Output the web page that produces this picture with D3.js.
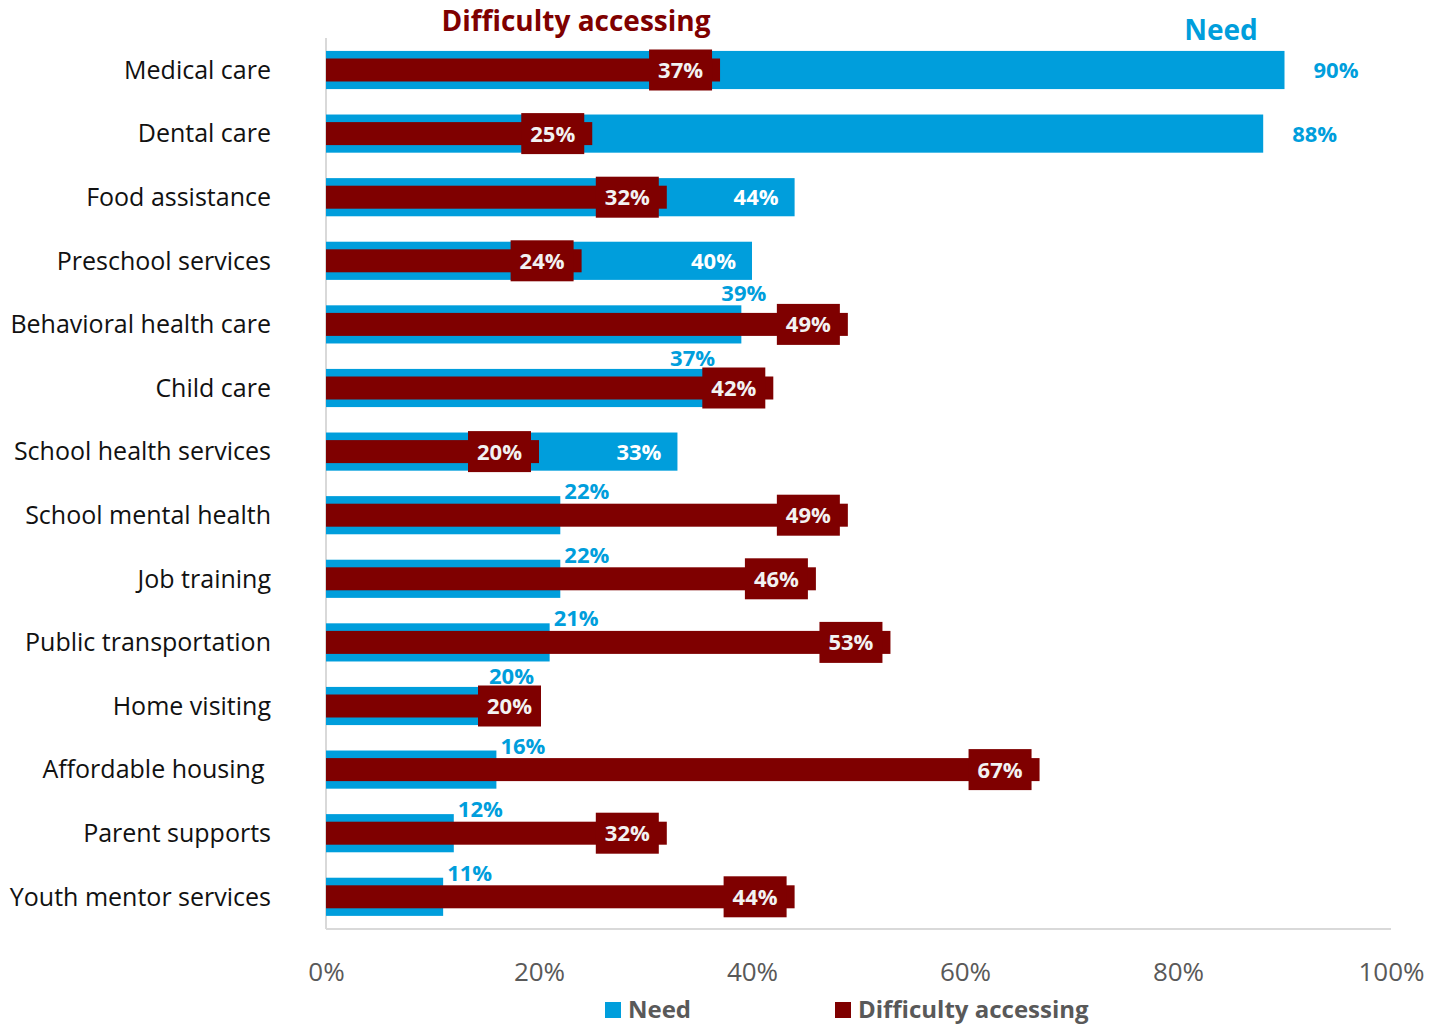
<!DOCTYPE html>
<html>
<head>
<meta charset="utf-8">
<script src="https://cdn.jsdelivr.net/npm/d3@7"></script>
<style>
  html, body { margin: 0; padding: 0; background: #fff; }
  svg { display: block; font-family: "Open Sans", "Noto Sans", sans-serif; }
</style>
</head>
<body>
<svg id="chart" width="1442" height="1026"></svg>
<script>
const categories = [
  "Medical care", "Dental care", "Food assistance", "Preschool services",
  "Behavioral health care", "Child care", "School health services",
  "School mental health", "Job training", "Public transportation",
  "Home visiting", "Affordable housing ", "Parent supports", "Youth mentor services"
];
const needValues = [90, 88, 44, 40, 39, 37, 33, 22, 22, 21, 20, 16, 12, 11];
const difficultyValues = [37, 25, 32, 24, 49, 42, 20, 49, 46, 53, 20, 67, 32, 44];
const tickValues = [0, 20, 40, 60, 80, 100];
const seriesNames = ["Need", "Difficulty accessing"];

const BLUE = "#009EDC";
const RED = "#7F0000";

const data = categories.map((c, i) => ({ cat: c, need: needValues[i], diff: difficultyValues[i] }));

const svg = d3.select("#chart");
const x = d3.scaleLinear().domain([0, 100]).range([326, 1391]);
const y = d3.scaleBand().domain(categories).range([38.2, 928.6]).paddingInner(0.4).paddingOuter(0.2);

const needH = y.bandwidth();
const diffH = 23;
const boxH = 41, boxW = 63;

// Axis lines
svg.append("line").attr("x1", x(0)).attr("x2", x(0)).attr("y1", 38).attr("y2", 929)
  .attr("stroke", "#d9d9d9").attr("stroke-width", 2);
svg.append("line").attr("x1", x(0)).attr("x2", x(100)).attr("y1", 929).attr("y2", 929)
  .attr("stroke", "#d9d9d9").attr("stroke-width", 2);

// X axis tick labels
const xAxis = d3.axisBottom(x).tickValues(tickValues).tickFormat(d => d + "%").tickSize(0).tickPadding(0);
const gx = svg.append("g").attr("transform", "translate(0,965)").call(xAxis);
gx.select(".domain").remove();
gx.selectAll("text").attr("font-size", 26).attr("fill", "#595959")
  .attr("font-family", "'Open Sans', 'Noto Sans', sans-serif").attr("dy", "0.6em");

// Y category labels
const yAxis = d3.axisLeft(y).tickSize(0).tickPadding(0);
const gy = svg.append("g").attr("transform", "translate(271,0)").call(yAxis);
gy.select(".domain").remove();
gy.selectAll("text").attr("font-size", 25).attr("fill", "#111")
  .attr("font-family", "'Open Sans', 'Noto Sans', sans-serif").attr("dy", "0.35em")
  .style("white-space", "pre");

// Need bars
svg.append("g").selectAll("rect").data(data).join("rect")
  .attr("x", x(0)).attr("y", d => y(d.cat))
  .attr("width", d => x(d.need) - x(0)).attr("height", needH)
  .attr("fill", BLUE);

// Difficulty bars
svg.append("g").selectAll("rect").data(data).join("rect")
  .attr("x", x(0)).attr("y", d => y(d.cat) + needH / 2 - diffH / 2)
  .attr("width", d => x(d.diff) - x(0)).attr("height", diffH)
  .attr("fill", RED);

// Need labels
const needLabels = svg.append("g").attr("font-weight", "bold").attr("font-size", 22);
data.forEach(d => {
  const end = x(d.need);
  const top = y(d.cat);
  const mid = top + needH / 2;
  const t = needLabels.append("text").text(d.need + "%");
  if (d.need > d.diff + 40) {
    // outside right
    t.attr("x", end + 29).attr("y", mid).attr("dy", "0.36em").attr("fill", BLUE);
  } else if (d.need > d.diff) {
    // inside, right end, white
    t.attr("x", end - 16).attr("y", mid).attr("dy", "0.36em").attr("text-anchor", "end").attr("fill", "#fff");
  } else {
    const gap = d.diff - d.need;
    t.attr("fill", BLUE);
    if (gap > 10) t.attr("x", end + 4).attr("y", top + 3);
    else if (gap > 5) t.attr("x", end - 20).attr("y", top - 4);
    else t.attr("x", end - 5).attr("y", top - 3).attr("text-anchor", "end");
  }
});

// Difficulty label boxes
const boxes = svg.append("g");
data.forEach(d => {
  const end = x(d.diff);
  const mid = y(d.cat) + needH / 2;
  const right = d.diff === d.need ? end + 2 : end - 8;
  boxes.append("rect").attr("x", right - boxW).attr("y", mid - boxH / 2)
    .attr("width", boxW).attr("height", boxH).attr("fill", RED);
  boxes.append("text").attr("x", right - boxW / 2).attr("y", mid).attr("dy", "0.36em")
    .attr("text-anchor", "middle").attr("font-weight", "bold").attr("font-size", 22)
    .attr("fill", "#F2F2F2").text(d.diff + "%");
});

// Titles
svg.append("text").attr("x", 576).attr("y", 31).attr("text-anchor", "middle")
  .attr("font-weight", "bold").attr("font-size", 28).attr("fill", RED).text(seriesNames[1]);
svg.append("text").attr("x", 1221).attr("y", 40).attr("text-anchor", "middle")
  .attr("font-weight", "bold").attr("font-size", 28).attr("fill", BLUE).text(seriesNames[0]);

// Legend
const legend = svg.append("g");
const legendItems = [
  { name: seriesNames[0], color: BLUE, x: 605 },
  { name: seriesNames[1], color: RED, x: 835 }
];
legendItems.forEach(it => {
  legend.append("rect").attr("x", it.x).attr("y", 1002).attr("width", 16).attr("height", 16).attr("fill", it.color);
  legend.append("text").attr("x", it.x + 23).attr("y", 1018).attr("font-weight", "bold")
    .attr("font-size", 24).attr("fill", "#595959").text(it.name);
});
</script>
</body>
</html>
